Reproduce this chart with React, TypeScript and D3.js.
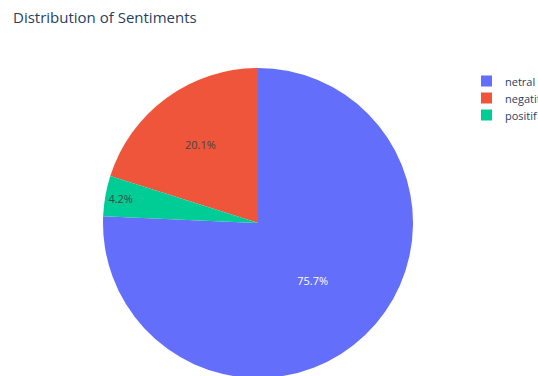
import React from "react";
import * as d3 from "d3";

const categories = ["netral", "negatif", "positif"];
const values = [75.7, 20.1, 4.2];
const colors = ["#636efa", "#EF553B", "#00cc96"];
const textColors = ["#ffffff", "#444444", "#444444"];
const labelRadiusFrac = [0.51, 0.63, 0.9];

const W = 538;
const H = 376;
const cx = 258;
const cy = 223;
const R = 155;

export default function App() {
  const total = d3.sum(values);
  const startFrac = -(total - values[0]) / total; // netral ends at 12 o'clock going counterclockwise
  const pie = d3
    .pie<number>()
    .sort(null)
    .startAngle(startFrac * 2 * Math.PI)
    .endAngle(startFrac * 2 * Math.PI - 2 * Math.PI);
  const arcs = pie(values);
  const arc = d3.arc<d3.PieArcDatum<number>>().innerRadius(0).outerRadius(R);

  return (
    <div style={{ position: "fixed", left: 0, top: 0 }}>
      <svg width={W} height={H} style={{ display: "block", fontFamily: "'Open Sans', sans-serif" }}>
        <rect width={W} height={H} fill="#fff" />
        <text x={13} y={23} fontSize={15} fill="#2a3f5f">
          Distribution of Sentiments
        </text>
        <g transform={`translate(${cx},${cy})`}>
          {arcs.map((a, i) => (
            <path key={categories[i]} d={arc(a) || ""} fill={colors[i]} />
          ))}
          {arcs.map((a, i) => {
            const lr = R * labelRadiusFrac[i];
            const c = d3.arc<d3.PieArcDatum<number>>().innerRadius(lr).outerRadius(lr).centroid(a);
            return (
              <text
                key={"l" + i}
                x={c[0]}
                y={c[1]}
                textAnchor="middle"
                dominantBaseline="central"
                fontSize={11}
                fill={textColors[i]}
              >
                {d3.format(".1f")((values[i] / total) * 100) + "%"}
              </text>
            );
          })}
        </g>
        <g>
          {categories.map((c, i) => (
            <g key={c} transform={`translate(481,${81 + i * 17})`}>
              <rect x={0} y={-5.5} width={11} height={11} fill={colors[i]} />
              <text x={24} y={0} dominantBaseline="central" fontSize={11} fill="#2a3f5f">
                {c}
              </text>
            </g>
          ))}
        </g>
      </svg>
    </div>
  );
}
